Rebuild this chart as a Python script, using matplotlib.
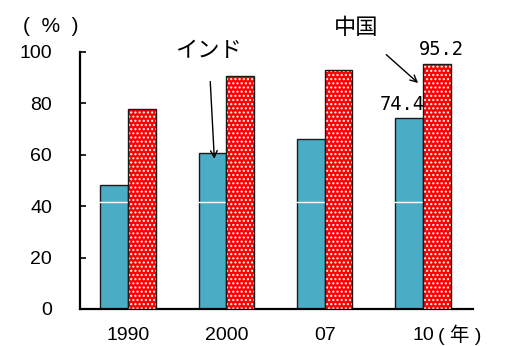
import matplotlib.pyplot as plt
import numpy as np
import matplotlib as mpl

mpl.rcParams['font.family'] = ['Liberation Sans', 'Noto Sans CJK JP']
mpl.rcParams['hatch.linewidth'] = 1.0

years = ['1990', '2000', '07', '10']
india = [48.2, 60.7, 66.1, 74.4]
china = [77.8, 90.7, 93.0, 95.2]

blue = '#4BACC6'
red = '#FF0000'
w = 0.28
x = np.arange(len(years))

fig = plt.figure(figsize=(5.05, 3.46), dpi=100)
ax = fig.add_axes([0.158, 0.107, 0.779, 0.743])

ax.bar(x - w/2, india, w, color=blue, edgecolor='#1a1a1a', linewidth=1.0, zorder=2)
# white line that runs through the blue bars
ax.axhline(41.6, color='white', lw=1.0, zorder=2.5)
# dotted red bars: hatch drawn in white, outline added on top
ax.bar(x + w/2, china, w, color=red, edgecolor='white', linewidth=0, hatch='....', zorder=3)
ax.bar(x + w/2, china, w, fill=False, edgecolor='#1a1a1a', linewidth=1.0, zorder=4)

ax.set_xlim(-0.49, 3.51)
ax.set_ylim(0, 100)
ax.set_yticks([0, 20, 40, 60, 80, 100])
ax.set_xticks(x)
ax.set_xticklabels(years)

for s in ['top', 'right']:
    ax.spines[s].set_visible(False)
for s in ['left', 'bottom']:
    ax.spines[s].set_linewidth(1.6)
ax.tick_params(axis='y', direction='in', length=4.5, width=1.2, pad=20, labelsize=14)
ax.tick_params(axis='x', length=0, pad=13, labelsize=14)

ax.text(-0.074, 1.10, '(  %  )', transform=ax.transAxes, ha='center', va='center',
        fontsize=15)
ax.text(3.15, -0.100, '( 年 )', transform=ax.get_xaxis_transform(), ha='left', va='center',
        fontsize=14)

# value labels on the 2010 bars
ax.annotate(f'{india[3]}', xy=(3.0, india[3]), xytext=(1, 3), textcoords='offset points',
            ha='right', va='bottom', fontsize=13.5, family='DejaVu Sans Mono')
ax.annotate(f'{china[3]}', xy=(3 + w/2, china[3]), xytext=(3, 4), textcoords='offset points',
            ha='center', va='bottom', fontsize=13.5, family='DejaVu Sans Mono')

ax.annotate('インド', xy=(0.878, 58.4), xytext=(0.82, 100.5), ha='center', va='center',
            fontsize=16, family='Noto Sans CJK JP', annotation_clip=False,
            arrowprops=dict(arrowstyle='->', lw=1.0, color='black',
                            shrinkA=12, shrinkB=0, mutation_scale=12))
ax.annotate('中国', xy=(2.95, 87.9), xytext=(2.316, 109.5), ha='center', va='center',
            fontsize=16, family='Noto Sans CJK JP', annotation_clip=False,
            arrowprops=dict(arrowstyle='->', lw=1.0, color='black',
                            shrinkA=14, shrinkB=0, mutation_scale=12))

plt.savefig('out.png', dpi=100)
